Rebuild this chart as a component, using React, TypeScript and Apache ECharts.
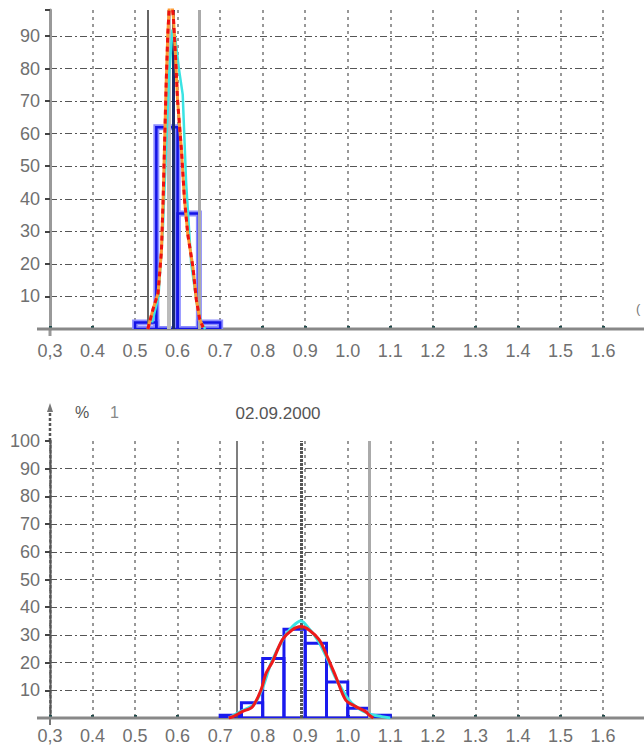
import React, { useEffect, useRef } from "react";
import * as echarts from "echarts";

// ---- data ----
const xTickLabels = ["0,3", "0.4", "0.5", "0.6", "0.7", "0.8", "0.9", "1.0", "1.1", "1.2", "1.3", "1.4", "1.5", "1.6"];

// top chart: histogram bins [from, to, %]
const topHist = [
  [0.5, 0.55, 2],
  [0.55, 0.6, 62],
  [0.6, 0.65, 35.5],
  [0.65, 0.7, 2],
];
const topRed = [
  [0.53, 0], [0.542, 6], [0.554, 11], [0.562, 24], [0.566, 40], [0.57, 60], [0.573, 75],
  [0.577, 91], [0.58, 98], [0.583, 104], [0.59, 96], [0.595, 84], [0.6, 70], [0.609, 55],
  [0.616, 40], [0.624, 29], [0.636, 19], [0.644, 9], [0.652, 3], [0.66, 0.5],
];
const topCyan = [
  [0.54, 2], [0.555, 10], [0.565, 30], [0.573, 55], [0.58, 78], [0.588, 92], [0.594, 90],
  [0.603, 80], [0.612, 72], [0.62, 45], [0.632, 20], [0.645, 8], [0.655, 2], [0.665, 0],
];
const topMarkers = [0.53, 0.579, 0.595, 0.65];

// bottom chart
const bottomHist = [
  [0.7, 0.75, 1],
  [0.75, 0.8, 5.5],
  [0.8, 0.85, 21.5],
  [0.85, 0.9, 32],
  [0.9, 0.95, 27],
  [0.95, 1.0, 13],
  [1.0, 1.05, 3.5],
  [1.05, 1.1, 1],
];
const bottomRed = [
  [0.72, 0], [0.73, 0.5], [0.752, 2.3], [0.776, 4.1], [0.796, 10.1], [0.808, 16.2], [0.823, 20.3],
  [0.846, 28.2], [0.869, 31.8], [0.89, 33], [0.909, 31.8], [0.933, 28.2], [0.952, 22.1],
  [0.972, 14.9], [0.995, 6.5], [1.019, 4.1], [1.042, 2.3], [1.05, 1.1], [1.06, 0],
];
const bottomCyan = [
  [0.72, 0], [0.75, 2.5], [0.78, 5], [0.8, 11], [0.82, 20], [0.85, 29], [0.87, 33], [0.89, 35],
  [0.91, 32], [0.93, 28], [0.95, 22], [0.97, 15], [1.0, 7], [1.02, 4], [1.05, 1.5], [1.08, 0.5], [1.1, 0],
];
const bottomMarkers = [0.7375, 0.893, 1.049];
const bottomTitle = "02.09.2000";
const bottomUnit = "%";
const bottomIndex = "1";

const FONT = "'Liberation Sans', Arial, sans-serif";
const LABEL_COLOR = "#707070";

function histItem(stroke: string, width: number) {
  return (params: any, api: any) => {
    const x0 = api.value(0);
    const x1 = api.value(1);
    const v = api.value(2);
    const a = api.coord([x0, 0]);
    const b = api.coord([x1, v]);
    return {
      type: "rect",
      shape: { x: a[0], y: b[1], width: b[0] - a[0], height: a[1] - b[1] },
      style: { fill: "rgba(0,0,0,0)", stroke, lineWidth: width },
    };
  };
}

function xAxisCfg(gridIndex: number, margin: number) {
  return {
    type: "value",
    gridIndex,
    min: 0.3,
    max: 1.6,
    interval: 0.1,
    axisLine: { show: false },
    axisTick: { show: true, inside: true, length: 3, lineStyle: { color: "#1d4a4a", width: 3 } },
    axisLabel: {
      margin,
      color: LABEL_COLOR,
      fontSize: 18,
      fontFamily: FONT,
      formatter: (v: number) => xTickLabels[Math.round((v - 0.3) * 10)] ?? "",
    },
    splitLine: { show: true, lineStyle: { color: "#777", type: [3, 4], width: 1.5 } },
  };
}

function yAxisCfg(gridIndex: number, max: number, maxLabel: number, axisLineStyle: any) {
  return {
    type: "value",
    gridIndex,
    min: 0,
    max,
    interval: 10,
    axisLine: { show: true, lineStyle: axisLineStyle },
    axisTick: { show: true, length: 5, lineStyle: { color: "#444", width: 2 } },
    axisLabel: {
      margin: 10,
      color: LABEL_COLOR,
      fontSize: 18,
      fontFamily: FONT,
      formatter: (v: number) => (v >= 10 && v <= maxLabel && v % 10 === 0 ? String(v) : ""),
    },
    splitLine: {
      show: true,
      showMaxLine: false,
      lineStyle: { color: "#555", type: [7, 3, 2, 3], width: 1 },
    },
  };
}

function markLines(values: number[], styles: any[]) {
  return {
    symbol: "none",
    silent: true,
    label: { show: false },
    animation: false,
    data: values.map((v, i) => ({ xAxis: v, lineStyle: styles[i] })),
  };
}

export default function App() {
  const ref = useRef<HTMLDivElement>(null);
  useEffect(() => {
    if (!ref.current) return;
    const chart = echarts.init(ref.current, undefined, { renderer: "svg" });
    chart.setOption({
      animation: false,
      backgroundColor: "#fff",
      grid: [
        { left: 50, right: 41, top: 10, height: 319 },
        { left: 50, right: 41, top: 441, height: 277 },
      ],
      xAxis: [xAxisCfg(0, 13), xAxisCfg(1, 9)],
      yAxis: [
        yAxisCfg(0, 98, 90, { color: "#999", width: 3 }),
        yAxisCfg(1, 100, 100, { color: "#555", width: 2.5, type: [3, 2] }),
      ],
      graphic: [
        { type: "line", shape: { x1: 37, y1: 329, x2: 644, y2: 329 }, style: { stroke: "#888", lineWidth: 3 }, z: 1 },
        { type: "line", shape: { x1: 37, y1: 718, x2: 644, y2: 718 }, style: { stroke: "#888", lineWidth: 3 }, z: 1 },
        { type: "line", shape: { x1: 50, y1: 329, x2: 50, y2: 336 }, style: { stroke: "#999", lineWidth: 3 } },
        { type: "line", shape: { x1: 50, y1: 441, x2: 50, y2: 410 }, style: { stroke: "#555", lineWidth: 2.5, lineDash: [3, 2] } },
        { type: "line", shape: { x1: 50, y1: 718, x2: 50, y2: 725 }, style: { stroke: "#777", lineWidth: 2 } },
        { type: "polygon", shape: { points: [[47, 412], [50, 403], [53, 412]] }, style: { fill: "#777" } },
        { type: "text", x: 75, y: 412, style: { text: bottomUnit, fill: "#555", font: `16px ${FONT}`, verticalAlign: "middle" } },
        { type: "text", x: 110, y: 412, style: { text: bottomIndex, fill: "#888", font: `16px ${FONT}`, verticalAlign: "middle" } },
        { type: "text", x: 278, y: 413, style: { text: bottomTitle, fill: "#555", font: `17px ${FONT}`, align: "center", verticalAlign: "middle" } },
        { type: "text", x: 636, y: 302, style: { text: "(", fill: "#777", font: `13px ${FONT}` } },
      ],
      series: [
        {
          type: "custom",
          xAxisIndex: 0,
          yAxisIndex: 0,
          clip: true,
          renderItem: histItem("#8c8cff", 6),
          encode: { x: [0, 1], y: 2 },
          data: topHist,
          z: 3,
        },
        {
          type: "custom",
          xAxisIndex: 0,
          yAxisIndex: 0,
          clip: true,
          renderItem: histItem("#1414e6", 2.5),
          encode: { x: [0, 1], y: 2 },
          data: topHist,
          z: 4,
        },
        {
          type: "line",
          xAxisIndex: 0,
          yAxisIndex: 0,
          data: topCyan,
          showSymbol: false,
          clip: true,
          lineStyle: { color: "#3be3e3", width: 2.5 },
          z: 5,
          markLine: markLines(topMarkers, [
            { color: "#666", width: 2, type: "solid" },
            { color: "#bbb", width: 4, type: "solid" },
            { color: "#1b2c6c", width: 3, type: "solid" },
            { color: "#aaa", width: 3, type: "solid" },
          ]),
        },
        {
          type: "line",
          xAxisIndex: 0,
          yAxisIndex: 0,
          data: topRed,
          showSymbol: false,
          clip: true,
          lineStyle: { color: "#ff9933", width: 3 },
          z: 6,
        },
        {
          type: "line",
          xAxisIndex: 0,
          yAxisIndex: 0,
          data: topRed,
          showSymbol: false,
          clip: true,
          lineStyle: { color: "#ee1111", width: 3, type: [5, 4] },
          z: 7,
        },
        {
          type: "custom",
          xAxisIndex: 1,
          yAxisIndex: 1,
          clip: true,
          renderItem: histItem("#1a1aee", 3),
          encode: { x: [0, 1], y: 2 },
          data: bottomHist,
          z: 4,
        },
        {
          type: "line",
          xAxisIndex: 1,
          yAxisIndex: 1,
          data: bottomCyan,
          showSymbol: false,
          smooth: 0.3,
          lineStyle: { color: "#3be3e3", width: 3 },
          z: 5,
          markLine: markLines(bottomMarkers, [
            { color: "#555", width: 1.5, type: "solid" },
            { color: "#555", width: 3, type: [3, 1] },
            { color: "#aaa", width: 3, type: "solid" },
          ]),
        },
        {
          type: "line",
          xAxisIndex: 1,
          yAxisIndex: 1,
          data: bottomRed,
          showSymbol: false,
          smooth: 0.3,
          lineStyle: { color: "#ee1a1a", width: 3 },
          z: 6,
        },
      ],
    });
    return () => chart.dispose();
  }, []);
  return (
    <div
      ref={ref}
      style={{ position: "absolute", left: 0, top: 0, width: 644, height: 748, background: "#fff" }}
    />
  );
}
